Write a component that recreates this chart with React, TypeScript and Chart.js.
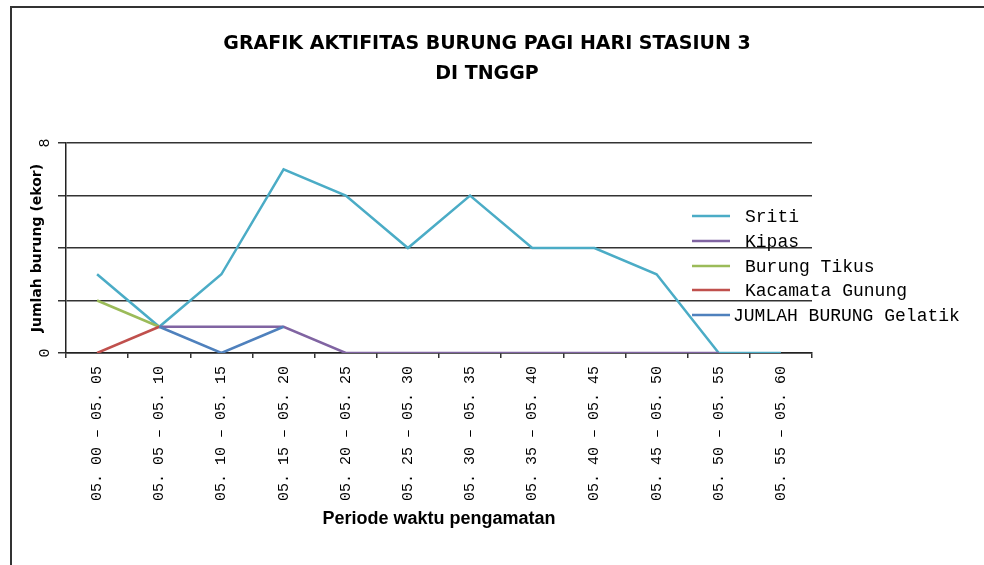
import React, { useEffect, useRef } from 'react';
import { Chart, registerables } from 'chart.js';

Chart.register(...registerables);

const categories = [
  '05. 00 – 05. 05',
  '05. 05 – 05. 10',
  '05. 10 – 05. 15',
  '05. 15 – 05. 20',
  '05. 20 – 05. 25',
  '05. 25 – 05. 30',
  '05. 30 – 05. 35',
  '05. 35 – 05. 40',
  '05. 40 – 05. 45',
  '05. 45 – 05. 50',
  '05. 50 – 05. 55',
  '05. 55 – 05. 60',
];

const sriti = [3, 1, 3, 7, 6, 4, 6, 4, 4, 3, 0, 0];
const kipas = [null, 1, 1, 1, 0, 0, 0, 0, 0, 0, 0, null];
const burungTikus = [2, 1, null, null, null, null, null, null, null, null, null, null];
const kacamataGunung = [0, 1, null, null, null, null, null, null, null, null, null, null];
const gelatik = [null, 1, 0, 1, null, null, null, null, null, null, null, null];

const seriesNames = ['Sriti', 'Kipas', 'Burung Tikus', 'Kacamata Gunung', 'JUMLAH BURUNG Gelatik'];
const seriesColors = ['#4BACC6', '#8064A2', '#9BBB59', '#C0504D', '#4F81BD'];

const titleLines = ['GRAFIK AKTIFITAS BURUNG PAGI HARI STASIUN 3', 'DI TNGGP'];
const yTitle = 'Jumlah burung (ekor)';
const xTitle = 'Periode waktu pengamatan';
const yLabelledTicks = [0, 8];

const frameAndLegendPlugin = {
  id: 'frameAndLegend',
  beforeDraw(chart: any) {
    const ctx = chart.ctx;
    ctx.save();
    ctx.fillStyle = '#ffffff';
    ctx.fillRect(0, 0, chart.width, chart.height);
    ctx.strokeStyle = '#333333';
    ctx.lineWidth = 2;
    ctx.strokeRect(11, 7, chart.width, chart.height);
    ctx.restore();
  },
  afterDraw(chart: any) {
    const ctx = chart.ctx;
    ctx.save();
    const ys = [216, 241, 266, 290, 315];
    const tx = [745, 745, 745, 745, 733];
    ctx.font = "18px 'Liberation Mono', monospace";
    ctx.textAlign = 'left';
    ctx.textBaseline = 'middle';
    seriesNames.forEach((name, i) => {
      ctx.strokeStyle = seriesColors[i];
      ctx.lineWidth = 2.5;
      ctx.beginPath();
      ctx.moveTo(692, ys[i]);
      ctx.lineTo(730, ys[i]);
      ctx.stroke();
      ctx.fillStyle = '#000';
      ctx.fillText(name, tx[i], ys[i] + 1);
    });
    ctx.restore();
  },
};

export default function App() {
  const ref = useRef<HTMLCanvasElement | null>(null);

  useEffect(() => {
    if (!ref.current) return;
    const mk = (label: string, data: (number | null)[], i: number) => ({
      label,
      data,
      borderColor: seriesColors[i],
      backgroundColor: seriesColors[i],
      borderWidth: 2.5,
      pointRadius: 0,
      pointHoverRadius: 0,
      tension: 0,
      spanGaps: false,
      fill: false,
      order: 5 - i,
    });
    const chart = new Chart(ref.current, {
      type: 'line',
      data: {
        labels: categories,
        datasets: [
          mk(seriesNames[0], sriti, 0),
          mk(seriesNames[1], kipas, 1),
          mk(seriesNames[2], burungTikus, 2),
          mk(seriesNames[3], kacamataGunung, 3),
          mk(seriesNames[4], gelatik, 4),
        ] as any,
      },
      options: {
        responsive: false,
        animation: false,
        layout: { padding: { left: 10, right: 20, top: 6, bottom: 25 } },
        plugins: {
          legend: { display: false },
          tooltip: { enabled: false },
          title: {
            display: true,
            text: titleLines,
            color: '#000',
            font: { family: "'DejaVu Sans', sans-serif", size: 19, weight: 'bold', lineHeight: 1.58 },
            padding: { top: 23, bottom: 54 },
          },
        },
        scales: {
          x: {
            type: 'category',
            offset: true,
            grid: {
              display: true,
              drawOnChartArea: false,
              drawTicks: true,
              tickLength: 5,
              offset: true,
              color: '#333',
              lineWidth: 1.5,
            },
            border: { display: true, color: '#222', width: 1.5 },
            ticks: {
              color: '#000',
              font: { family: "'Liberation Mono', monospace", size: 15 },
              minRotation: 90,
              maxRotation: 90,
              padding: 8,
              autoSkip: false,
            },
            title: {
              display: true,
              text: xTitle,
              color: '#000',
              font: { family: "'Liberation Sans', sans-serif", size: 18, weight: 'bold', lineHeight: 1.2 },
              padding: { top: 0, bottom: 10 },
            },
            afterFit: (s: any) => {
              s.height = 187;
            },
          },
          y: {
            type: 'linear',
            position: 'left',
            min: 0,
            max: 8,
            grid: {
              color: '#333',
              lineWidth: 1.5,
              tickLength: 8,
              drawTicks: true,
            },
            border: { display: true, color: '#222', width: 1.5 },
            ticks: {
              stepSize: 2,
              color: '#000',
              font: { family: "'Liberation Mono', monospace", size: 15 },
              minRotation: 90,
              maxRotation: 90,
              crossAlign: 'center',
              padding: 8,
              callback: (v: any) => (yLabelledTicks.includes(Number(v)) ? String(v) : ''),
            },
            title: {
              display: true,
              text: yTitle,
              color: '#000',
              font: { family: "'DejaVu Sans', sans-serif", size: 14, weight: 'bold' },
              padding: { top: 19, bottom: 0 },
            },
            afterFit: (s: any) => {
              s.width = 56;
            },
          },
          y2: {
            type: 'linear',
            position: 'right',
            display: true,
            grid: { display: false, drawTicks: false },
            border: { display: false },
            ticks: { display: false },
            afterFit: (s: any) => {
              s.width = 152;
            },
          },
        },
      } as any,
      plugins: [frameAndLegendPlugin],
    });
    return () => chart.destroy();
  }, []);

  return (
    <div style={{ position: 'fixed', left: 0, top: 0, width: 984, height: 565, background: '#fff' }}>
      <canvas ref={ref} width={984} height={565} style={{ width: 984, height: 565, display: 'block' }} />
    </div>
  );
}
